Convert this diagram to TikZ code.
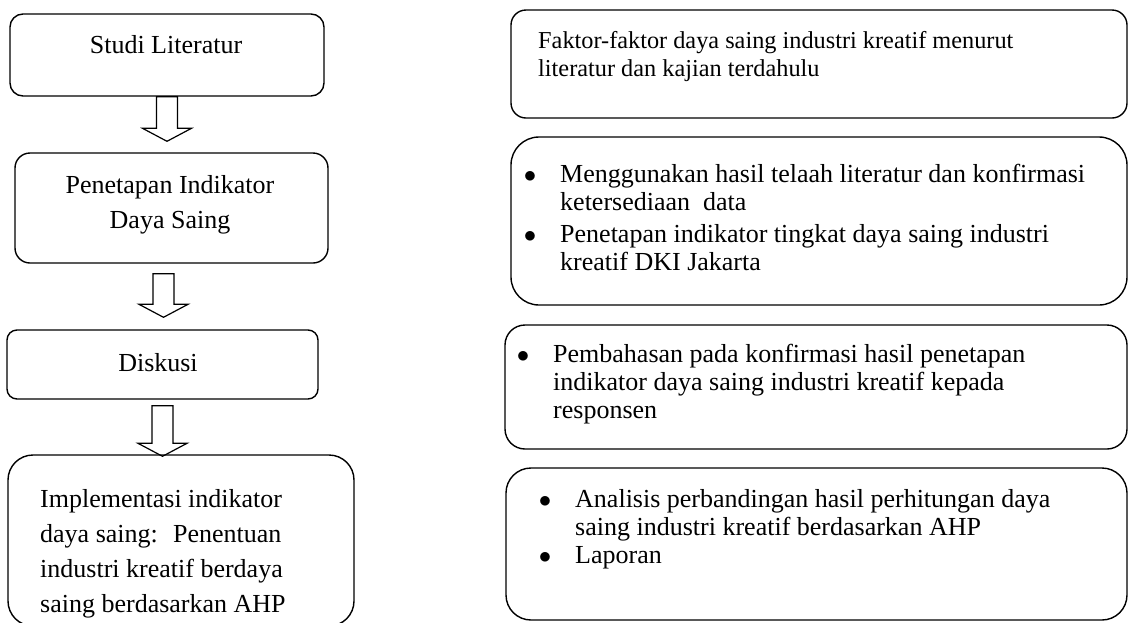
\documentclass[tikz,border=0pt]{standalone}
\usepackage{fontspec}
\setmainfont{Liberation Serif}
\usetikzlibrary{positioning,calc}
\tikzset{
  stagebox/.style={draw, line width=1.4pt, inner sep=0pt},
  notebox/.style={draw, line width=1.4pt, inner sep=0pt},
  stagetext/.style={font=\fontsize{26}{35}\selectfont, align=center, inner sep=0pt},
  notetext/.style={font=\fontsize{26}{28}\selectfont, align=left, anchor=west, inner sep=0pt},
  blockarrow/.style={draw, line width=1.2pt, to path={let \p1=(\tikztostart), \p2=(\tikztotarget) in
    (\x1-10.5pt,\y1) -- (\x1-10.5pt,\y2+13pt) -- (\x1-24.5pt,\y2+13pt) -- (\x1,\y2)
    -- (\x1+24.5pt,\y2+13pt) -- (\x1+10.5pt,\y2+13pt) -- (\x1+10.5pt,\y1) -- cycle}}
}
\newcommand{\bul}{\leavevmode\llap{$\bullet$\hspace{24pt}}}

\begin{document}
\begin{tikzpicture}[x=1pt, y=-1pt]
  \useasboundingbox (0,0) rectangle (1130,622);
  % left column: stages
  \node[stagebox, minimum width=314pt, minimum height=82pt, rounded corners=13pt] (studi) at (167,55) {};
  \node[stagebox, minimum width=313pt, minimum height=110pt, rounded corners=15pt] (penetapan) at (171.5,208) {};
  \node[stagebox, minimum width=311pt, minimum height=69pt, rounded corners=10pt] (diskusi) at (162.5,364.5) {};
  \node[stagebox, minimum width=346pt, minimum height=171pt, rounded corners=25pt] (implementasi) at (181,540.5) {};
  \node[stagetext] (studitext) at (166,45) {Studi Literatur};
  \node[stagetext] (penetapantext) at (170,205) {Penetapan Indikator\\Daya Saing};
  \node[stagetext] (diskusitext) at (158,363) {Diskusi};
  \node[stagetext, align=left, anchor=west] (implementasitext) at (40,554)
    {Implementasi indikator\\daya saing:~ Penentuan\\industri kreatif berdaya\\saing berdasarkan AHP};
  % hollow arrows
  \draw[blockarrow] (studi.south) to ([yshift=11pt]penetapan.north);
  \draw[blockarrow] ([xshift=-8pt, yshift=-10pt]penetapan.south) to ([yshift=12pt]diskusi.north);
  \draw[blockarrow] ([yshift=-6pt]diskusi.south) to ([yshift=-2pt]implementasi.north);
  % right column: notes
  \node[notebox, minimum width=616pt, minimum height=108pt, rounded corners=15pt] (faktor) at (819,64) {};
  \node[notebox, minimum width=616pt, minimum height=168pt, rounded corners=28pt] (telaah) at (819,221) {};
  \node[notebox, minimum width=622pt, minimum height=124pt, rounded corners=20pt] (bahas) at (816,387) {};
  \node[notebox, minimum width=621pt, minimum height=152pt, rounded corners=25pt] (laporan) at (816.5,544) {};
  \node[notetext, font=\fontsize{24.3}{28}\selectfont] (faktortext) at (538,57)
    {Faktor-faktor daya saing industri kreatif menurut\\literatur dan kajian terdahulu};
  \node[notetext] (telaahtext) at (560,217)
    {\bul Menggunakan hasil telaah literatur dan konfirmasi\\ketersediaan~ data\\[4pt]\bul Penetapan indikator tingkat daya saing industri\\kreatif DKI Jakarta};
  \node[notetext] (bahastext) at (553,384)
    {\bul Pembahasan pada konfirmasi hasil penetapan\\indikator daya saing industri kreatif kepada\\responsen};
  \node[notetext] (laporantext) at (575,529)
    {\bul Analisis perbandingan hasil perhitungan daya\\saing industri kreatif berdasarkan AHP\\\bul Laporan};
\end{tikzpicture}
\end{document}
